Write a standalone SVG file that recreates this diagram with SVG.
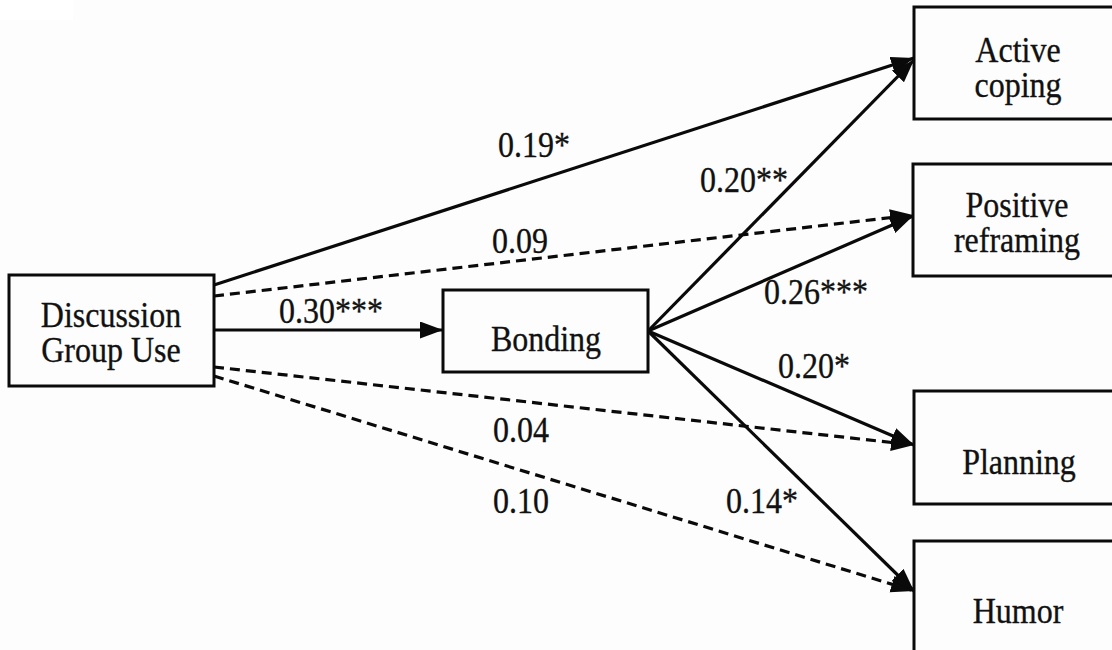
<svg xmlns="http://www.w3.org/2000/svg" width="1112" height="650" viewBox="0 0 1112 650">
  <style>
    .box { fill: none; stroke: #0a0a0a; stroke-width: 3; }
    .lbl { font-family: "Liberation Serif", "Times New Roman", serif; font-size: 32px; fill: #111; stroke: #111; stroke-width: 0.3; }
    .nd { font-family: "Liberation Serif", "Times New Roman", serif; font-size: 32px; fill: #111; stroke: #111; stroke-width: 0.3; text-anchor: middle; }
    .solid { fill: none; stroke: #0a0a0a; stroke-width: 3.2; }
    .dash { fill: none; stroke: #0a0a0a; stroke-width: 3.2; stroke-dasharray: 10 6; }
  </style>
  <defs>
    <marker id="arr" markerUnits="userSpaceOnUse" markerWidth="26" markerHeight="20" refX="23" refY="8.5" orient="auto" viewBox="0 0 26 20">
      <path d="M0,0 L23,8.5 L0,17 z" fill="#0a0a0a" stroke="none"/>
    </marker>
  </defs>
  <rect x="0" y="0" width="1112" height="650" fill="#fdfdfd"/>
  <rect x="0" y="0" width="73" height="20" fill="#ffffff"/>

  <g id="connectors">
    <line class="solid" x1="214" y1="285" x2="914" y2="58" marker-end="url(#arr)"/>
    <line class="dash" x1="214" y1="296" x2="913" y2="215" marker-end="url(#arr)"/>
    <line class="solid" x1="214" y1="330" x2="443" y2="330" marker-end="url(#arr)"/>
    <line class="dash" x1="214" y1="367" x2="914" y2="445" marker-end="url(#arr)"/>
    <line class="dash" x1="214" y1="376" x2="914" y2="591" marker-end="url(#arr)"/>
    <line class="solid" x1="648" y1="331" x2="914" y2="60" marker-end="url(#arr)"/>
    <line class="solid" x1="648" y1="331" x2="913" y2="216" marker-end="url(#arr)"/>
    <line class="solid" x1="648" y1="331" x2="914" y2="445" marker-end="url(#arr)"/>
    <line class="solid" x1="648" y1="331" x2="914" y2="591" marker-end="url(#arr)"/>
  </g>

  <g id="labels">
    <text class="lbl" transform="translate(498,157) scale(1,1.13)">0.19*</text>
    <text class="lbl" transform="translate(492,253) scale(1,1.13)">0.09</text>
    <text class="lbl" transform="translate(279,323) scale(1,1.13)">0.30***</text>
    <text class="lbl" transform="translate(700,192) scale(1,1.13)">0.20**</text>
    <text class="lbl" transform="translate(764,304) scale(1,1.13)">0.26***</text>
    <text class="lbl" transform="translate(778,378) scale(1,1.13)">0.20*</text>
    <text class="lbl" transform="translate(493,442) scale(1,1.13)">0.04</text>
    <text class="lbl" transform="translate(493,513) scale(1,1.13)">0.10</text>
    <text class="lbl" transform="translate(726,513) scale(1,1.13)">0.14*</text>
  </g>

  <g id="node-discussion">
    <rect class="box" x="9" y="275" width="205" height="111"/>
    <text class="nd" transform="translate(111,327) scale(1,1.13)">Discussion</text>
    <text class="nd" transform="translate(111,362) scale(1,1.13)">Group Use</text>
  </g>
  <g id="node-bonding">
    <rect class="box" x="443" y="290" width="205" height="82"/>
    <text class="nd" transform="translate(546,351) scale(1,1.13)">Bonding</text>
  </g>
  <g id="node-active">
    <rect class="box" x="914" y="7" width="205" height="112"/>
    <text class="nd" transform="translate(1018,62) scale(1,1.13)">Active</text>
    <text class="nd" transform="translate(1018,97) scale(1,1.13)">coping</text>
  </g>
  <g id="node-positive">
    <rect class="box" x="913" y="164" width="206" height="112"/>
    <text class="nd" transform="translate(1017,217) scale(1,1.13)">Positive</text>
    <text class="nd" transform="translate(1017,252) scale(1,1.13)">reframing</text>
  </g>
  <g id="node-planning">
    <rect class="box" x="914" y="391" width="205" height="113"/>
    <text class="nd" transform="translate(1019,474) scale(1,1.13)">Planning</text>
  </g>
  <g id="node-humor">
    <rect class="box" x="914" y="541" width="205" height="120"/>
    <text class="nd" transform="translate(1018,623) scale(1,1.13)">Humor</text>
  </g>
</svg>
